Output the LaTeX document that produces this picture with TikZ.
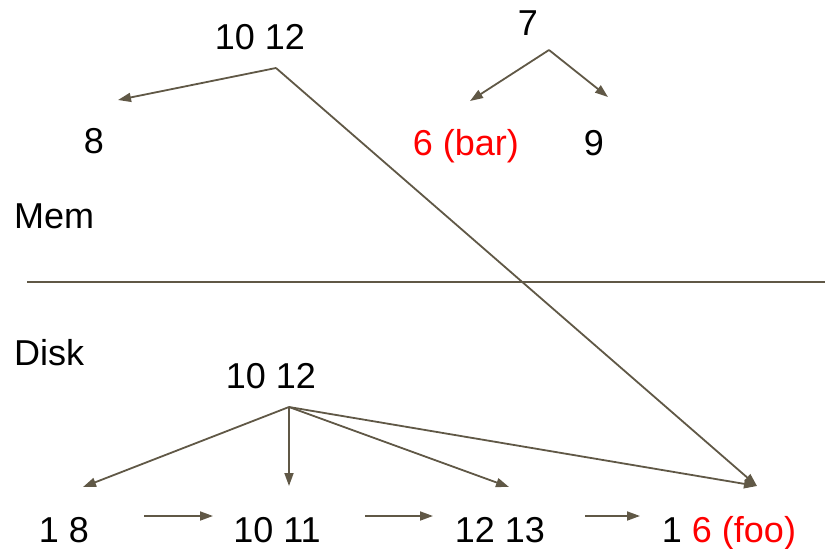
\documentclass[tikz,border=0pt]{standalone}
\usepackage{fontspec}
\setmainfont{Liberation Sans}
\usetikzlibrary{arrows.meta}
\definecolor{wire}{RGB}{96,88,70}

\begin{document}
\begin{tikzpicture}[
    x=1pt, y=-1pt,
    >={Triangle[length=13pt,width=9pt]},
    lbl/.style={inner sep=0pt, anchor=base, font=\fontsize{36}{43}\selectfont},
    tag/.style={lbl, anchor=base west},
    hot/.style={text=red},
    link/.style={draw=wire, line width=1.8pt, ->},
    split/.style={draw=wire, line width=1.8pt},
  ]
    \useasboundingbox (0,0) rectangle (825,549);

    % memory side
    \node[lbl]      (mroot) at (260,49)  {10 12};
    \node[lbl]      (m8)    at (94,153)  {8};
    \node[lbl]      (m7)    at (528,35)  {7};
    \node[lbl, hot] (bar)   at (466,155) {6 (bar)};
    \node[lbl]      (m9)    at (594,155) {9};
    \node[tag]      (mem)   at (14,228)  {Mem};

    \coordinate (mroot-out) at (276,68);
    \coordinate (m8-in)     at (118,100);
    \coordinate (m7-out)    at (549,50);
    \coordinate (bar-in)    at (470,101);
    \coordinate (m9-in)     at (608,97);

    % mem / disk boundary
    \coordinate (split-l) at (27,282);
    \coordinate (split-r) at (825,282);
    \draw[split] (split-l) -- (split-r);

    % disk side
    \node[tag]  (disk)  at (14,365)  {Disk};
    \node[lbl]  (droot) at (271,388) {10 12};
    \node[lbl]  (d18)   at (64,542)  {1 8};
    \node[lbl]  (d1011) at (277,542) {10 11};
    \node[lbl]  (d1213) at (500,542) {12 13};
    \node[lbl]  (foo)   at (729,542) {1 {\color{red}6 (foo)}};

    \coordinate (droot-out) at (289,407);
    \coordinate (d18-in)    at (83,487);
    \coordinate (d1011-in)  at (289,486);
    \coordinate (d1213-in)  at (509,487);
    \coordinate (foo-in)    at (757,486);

    \coordinate (d18-next)   at (144,516);
    \coordinate (d1011-prev) at (213,516);
    \coordinate (d1011-next) at (365,516);
    \coordinate (d1213-prev) at (433,516);
    \coordinate (d1213-next) at (585,516);
    \coordinate (foo-prev)   at (640,516);

    \foreach \a/\b in {mroot-out/m8-in, mroot-out/foo-in, m7-out/bar-in, m7-out/m9-in,
                       droot-out/d18-in, droot-out/d1011-in, droot-out/d1213-in, droot-out/foo-in,
                       d18-next/d1011-prev, d1011-next/d1213-prev, d1213-next/foo-prev}
      \draw[link] (\a) -- (\b);
  \end{tikzpicture}
\end{document}
